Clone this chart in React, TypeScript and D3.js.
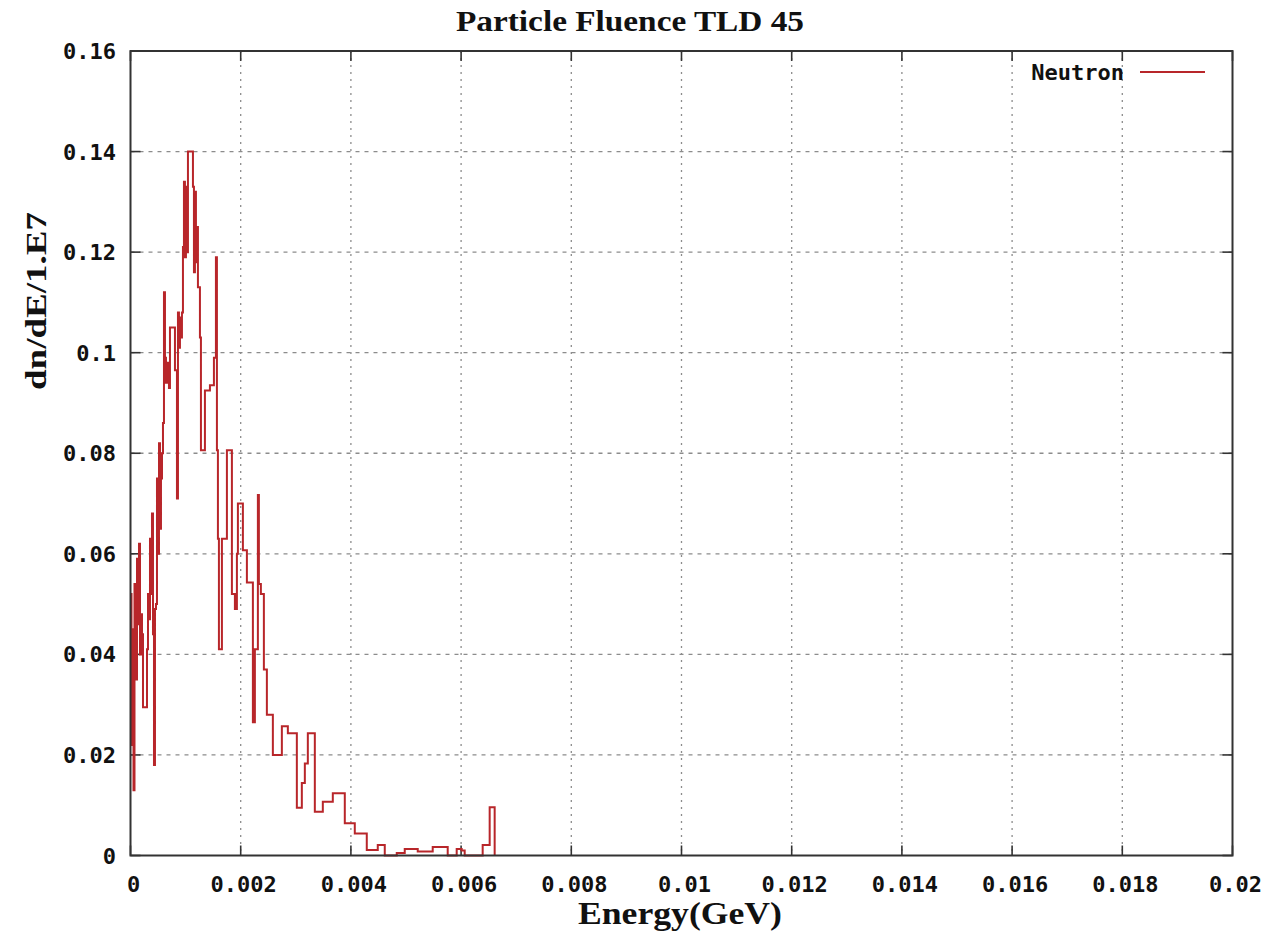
import { scaleLinear, line, curveStepAfter } from "d3"

const TITLE = "Particle Fluence TLD 45"
const X_LABEL = "Energy(GeV)"
const Y_LABEL = "dn/dE/1.E7"
const SERIES_NAME = "Neutron"

const xTicks = [0, 0.002, 0.004, 0.006, 0.008, 0.01, 0.012, 0.014, 0.016, 0.018, 0.02]
const xTickLabels = ["0", "0.002", "0.004", "0.006", "0.008", "0.01", "0.012", "0.014", "0.016", "0.018", "0.02"]
const yTicks = [0, 0.02, 0.04, 0.06, 0.08, 0.1, 0.12, 0.14, 0.16]
const yTickLabels = ["0", "0.02", "0.04", "0.06", "0.08", "0.1", "0.12", "0.14", "0.16"]

// histogram bin edges (GeV)
const binEdges = [
  0, 0.0000181, 0.0000363, 0.0000544, 0.0000725, 0.0000997, 0.0001179, 0.000136, 0.0001541,
  0.0001723, 0.0001904, 0.0002085, 0.0002266, 0.0002992, 0.0003173, 0.0003354, 0.0003536,
  0.0003717, 0.0003898, 0.000408, 0.0004261, 0.0004442, 0.0004624, 0.0004805, 0.0004986,
  0.0005168, 0.0005349, 0.000553, 0.0005712, 0.0005893, 0.0006074, 0.0006255, 0.0006437,
  0.0006618, 0.000698, 0.0007162, 0.0008068, 0.0008431, 0.0008613, 0.0008794, 0.0008975,
  0.0009157, 0.0009338, 0.0009519, 0.0009701, 0.0009882, 0.0010063, 0.0010245, 0.0010426,
  0.0011333, 0.0011514, 0.0011695, 0.0011876, 0.0012058, 0.0012239, 0.0012602, 0.0012783,
  0.0013508, 0.0014415, 0.001514, 0.0015503, 0.0015684, 0.0015865, 0.0016047, 0.0016591,
  0.0017497, 0.0018404, 0.0018948, 0.0019311, 0.0019492, 0.0020399, 0.0021124, 0.0022212,
  0.0022574, 0.0023118, 0.00233, 0.0023662, 0.0024206, 0.002475, 0.0025838, 0.002747,
  0.0028558, 0.003019, 0.0031096, 0.003164, 0.0032184, 0.0033454, 0.0034904, 0.0036717,
  0.0038893, 0.0040706, 0.0042882, 0.0044877, 0.0046146, 0.0048322, 0.0049772, 0.005213,
  0.0054849, 0.0057569, 0.0059201, 0.0060108, 0.0060652, 0.0063915, 0.0065185, 0.0066091,
]

// dn/dE per bin (units of 1e7)
const neutron = [
  0.052, 0.022, 0.045, 0.013, 0.054, 0.035, 0.059, 0.046, 0.062, 0.04, 0.048, 0.044, 0.0295,
  0.041, 0.052, 0.047, 0.063, 0.052, 0.068, 0.044, 0.018, 0.049, 0.05, 0.075, 0.06, 0.082,
  0.065, 0.075, 0.08, 0.086, 0.112, 0.099, 0.094, 0.098, 0.093, 0.105, 0.0965, 0.071, 0.108,
  0.101, 0.107, 0.103, 0.108, 0.121, 0.134, 0.119, 0.133, 0.12, 0.14, 0.133, 0.116, 0.132,
  0.118, 0.125, 0.113, 0.103, 0.0806, 0.0925, 0.0935, 0.099, 0.119, 0.0806, 0.063, 0.041,
  0.063, 0.0806, 0.052, 0.049, 0.06, 0.07, 0.0607, 0.0543, 0.0265, 0.041, 0.0717, 0.054,
  0.052, 0.037, 0.028, 0.02, 0.0257, 0.0243, 0.0095, 0.0144, 0.0183, 0.0243, 0.0087, 0.0107,
  0.0124, 0.0064, 0.0044, 0.0011, 0.0021, 0, 0.0005, 0.0013, 0.0008, 0.0017, 0, 0.0013, 0.001,
  0, 0.0021, 0.0096,
]

const W = 1274
const H = 934
const M = { left: 130.5, right: 1232.5, top: 51, bottom: 855.5 }
const LINE_COLOR = "#b8262a"
const TICK_FONT = "'DejaVu Sans Mono', monospace"
const SERIF = "'Liberation Serif', 'DejaVu Serif', serif"

export default function App() {
  const x = scaleLinear().domain([0, 0.02]).range([M.left, M.right])
  const y = scaleLinear().domain([0, 0.16]).range([M.bottom, M.top])

  const n = Math.min(neutron.length, binEdges.length - 1)
  const pts: [number, number][] = []
  for (let i = 0; i < n; i++) pts.push([binEdges[i], neutron[i]])
  pts.push([binEdges[n], neutron[n - 1]])
  pts.push([binEdges[n], 0])

  const path = line<[number, number]>()
    .x((d) => x(d[0]))
    .y((d) => y(d[1]))
    .curve(curveStepAfter)(pts)

  return (
    <div style={{ position: "absolute", left: 0, top: 0 }}>
      <svg width={W} height={H} style={{ display: "block", background: "#fff" }}>
        {/* grid */}
        {yTicks.slice(1, -1).map((t) => (
          <line key={"gy" + t} x1={M.left} x2={M.right} y1={y(t)} y2={y(t)}
            stroke="#8c8c8c" strokeWidth={1.3} strokeDasharray="4,5" />
        ))}
        {xTicks.slice(1, -1).map((t) => (
          <line key={"gx" + t} x1={x(t)} x2={x(t)} y1={M.top} y2={M.bottom}
            stroke="#8c8c8c" strokeWidth={1.3} strokeDasharray="2,5" />
        ))}

        {/* ticks on all four sides */}
        {yTicks.map((t) => (
          <g key={"ty" + t} stroke="#333" strokeWidth={1.6}>
            <line x1={M.left} x2={M.left + 10} y1={y(t)} y2={y(t)} />
            <line x1={M.right} x2={M.right - 10} y1={y(t)} y2={y(t)} />
          </g>
        ))}
        {xTicks.map((t) => (
          <g key={"tx" + t} stroke="#333" strokeWidth={1.6}>
            <line x1={x(t)} x2={x(t)} y1={M.bottom} y2={M.bottom - 10} />
            <line x1={x(t)} x2={x(t)} y1={M.top} y2={M.top + 10} />
          </g>
        ))}

        {/* data */}
        <path d={path ?? ""} fill="none" stroke={LINE_COLOR} strokeWidth={2} strokeLinejoin="miter" />

        {/* frame */}
        <rect x={M.left} y={M.top} width={M.right - M.left} height={M.bottom - M.top}
          fill="none" stroke="#333" strokeWidth={2} />

        {/* tick labels */}
        {yTicks.map((t, i) => (
          <text key={"ly" + t} x={116} y={y(t) + 8} textAnchor="end"
            fontFamily={TICK_FONT} fontWeight="bold" fontSize={22} fill="#111">
            {yTickLabels[i]}
          </text>
        ))}
        {xTicks.map((t, i) => (
          <text key={"lx" + t} x={x(t) + 3} y={892} textAnchor="middle"
            fontFamily={TICK_FONT} fontWeight="bold" fontSize={22} fill="#111">
            {xTickLabels[i]}
          </text>
        ))}

        {/* titles */}
        <text x={630} y={31} textAnchor="middle" fontFamily={SERIF} fontWeight="bold"
          fontSize={29} textLength={348} lengthAdjust="spacingAndGlyphs" fill="#111">
          {TITLE}
        </text>
        <text x={680} y={924} textAnchor="middle" fontFamily={SERIF} fontWeight="bold"
          fontSize={31} textLength={204} lengthAdjust="spacingAndGlyphs" fill="#111">
          {X_LABEL}
        </text>
        <text transform="translate(46,301) rotate(-90)" textAnchor="middle" fontFamily={SERIF}
          fontWeight="bold" fontSize={30} textLength={178} lengthAdjust="spacingAndGlyphs" fill="#111">
          {Y_LABEL}
        </text>

        {/* legend */}
        <text x={1124} y={80} textAnchor="end" fontFamily={TICK_FONT} fontWeight="bold"
          fontSize={22} fill="#111">
          {SERIES_NAME}
        </text>
        <line x1={1140} x2={1205} y1={72} y2={72} stroke={LINE_COLOR} strokeWidth={2} />
      </svg>
    </div>
  )
}
